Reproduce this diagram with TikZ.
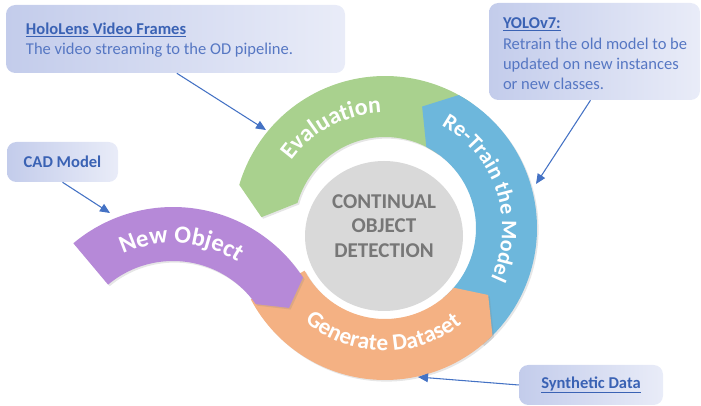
\documentclass[tikz,border=0pt]{standalone}
\usepackage{fontspec}
\setmainfont{Carlito}
\usetikzlibrary{arrows.meta,decorations.text,shadows,shapes.geometric}

\definecolor{boxL}{HTML}{C3CCEB}
\definecolor{boxR}{HTML}{E9ECF8}
\definecolor{headC}{HTML}{3A62B4}
\definecolor{bodyC}{HTML}{5677C3}
\definecolor{arrC}{HTML}{4472C4}
\definecolor{segG}{HTML}{A9D18E}
\definecolor{segB}{HTML}{6DB7DC}
\definecolor{segO}{HTML}{F4B183}
\definecolor{segP}{HTML}{B689D8}
\definecolor{coreC}{HTML}{D9D9D9}
\definecolor{coreT}{HTML}{777777}

\newcommand\hdline[1]{\textcolor{headC}{\bfseries\underline{#1}}}

\begin{document}
\begin{tikzpicture}[x=0.75pt,y=0.75pt,
  infobox/.style={rounded corners=7pt, left color=boxL, right color=boxR, inner sep=0pt, draw=none},
  boxtext/.style={align=left, font=\fontsize{12.4}{15}\selectfont, text=bodyC, inner sep=0pt},
  pointer/.style={draw=arrC, line width=0.8pt, -{Triangle[length=7.5pt,width=6.5pt]}},
  seg/.style={drop shadow={shadow xshift=1.2pt,shadow yshift=-1.2pt,opacity=0.2}},
  seglabel/.style={decorate, decoration={text along path, text align=center, text color=white}},
  coreshape/.style={ellipse, fill=coreC, minimum width=118.5pt, minimum height=112.5pt, inner sep=0pt},
  coretext/.style={align=center, text=coreT, font=\bfseries\fontsize{15.8}{18.4}\selectfont}
]
\useasboundingbox (0,0) rectangle (701,-406);

% ---- ring segments ----
\begin{scope}[shift={(385,-228)}]
  \fill[segG, seg] (55:152) arc[start angle=55, end angle=163.5, radius=152] -- (175:124) -- (164:91) arc[start angle=164, end angle=55, radius=91] -- cycle;
  \fill[segB, seg] (-50:152) arc[start angle=-50, end angle=61, radius=152] -- (73:127) -- (63:91) arc[start angle=63, end angle=-50, radius=91] -- cycle;
  \fill[segO, seg] (-152:152) arc[start angle=-152, end angle=-45, radius=152] -- (-33:123) -- (-41:91) arc[start angle=-41, end angle=-152, radius=91] -- cycle;
\end{scope}
\begin{scope}[shift={(173,-362)}]
  \fill[segP, seg] (130:155) arc[start angle=130, end angle=33, radius=155] -- (25:128) -- (35:101) arc[start angle=35, end angle=130, radius=101] -- cycle;
\end{scope}

% ---- segment labels ----
\begin{scope}[shift={(385,-228)}]
  \path[seglabel, decoration={text={|\bfseries\fontsize{18}{18}\selectfont|Evaluation}}] (160:115) arc[start angle=160, end angle=76, radius=115];
  \path[seglabel, decoration={text={|\bfseries\fontsize{16.5}{17}\selectfont|Re-Train the Model}}] (66:117) arc[start angle=66, end angle=-30, radius=117];
  \path[seglabel, decoration={text={|\bfseries\fontsize{17.5}{18}\selectfont|Generate Dataset}}] (-150:123) arc[start angle=-150, end angle=-32, radius=123];
\end{scope}
\begin{scope}[shift={(173,-362)}]
  \path[seglabel, decoration={text={|\bfseries\fontsize{18.5}{19}\selectfont|New Object}}] (120:119) arc[start angle=120, end angle=52, radius=119];
\end{scope}

% ---- core ----
\node[coreshape] (core) at (384,-236) {};
\node[coretext] (coreT) at (384,-226) {CONTINUAL\\OBJECT\\DETECTION};

% ---- info boxes ----
\node[infobox, minimum width=254.25pt, minimum height=51pt] (holo) at (175.5,-39) {};
\node[boxtext, anchor=west] (holoT) at ([xshift=15pt,yshift=-1pt]holo.west) {\hdline{HoloLens Video Frames}\\The video streaming to the OD pipeline.};

\node[infobox, minimum width=158.25pt, minimum height=72.75pt] (yolo) at (594.5,-51.5) {};
\node[boxtext, anchor=west] (yoloT) at ([xshift=10.5pt,yshift=-1.5pt]yolo.west) {\hdline{YOLOv7:}\\[1pt]Retrain the old model to be\\updated on new instances\\or new classes.};

\node[infobox, minimum width=83.25pt, minimum height=30pt] (cad) at (62.5,-162) {};
\node[boxtext, text=headC, font=\bfseries\fontsize{12.4}{15}\selectfont] (cadT) at (cad.center) {CAD Model};

\node[infobox, minimum width=108pt, minimum height=30pt] (syn) at (591,-385) {};
\node[boxtext] (synT) at (syn.center) {\hdline{Synthetic Data}};

% ---- pointers ----
\coordinate (holoTip) at (266,-130);
\coordinate (yoloTip) at (536,-184);
\coordinate (cadTip) at (110,-213);
\coordinate (synTip) at (418,-377);
\draw[pointer] ([xshift=1pt]holo.south) -- (holoTip);
\draw[pointer] ([xshift=-3pt]yolo.south) -- (yoloTip);
\draw[pointer] (cad.south) -- (cadTip);
\draw[pointer] (syn.west) -- (synTip);
\end{tikzpicture}
\end{document}
